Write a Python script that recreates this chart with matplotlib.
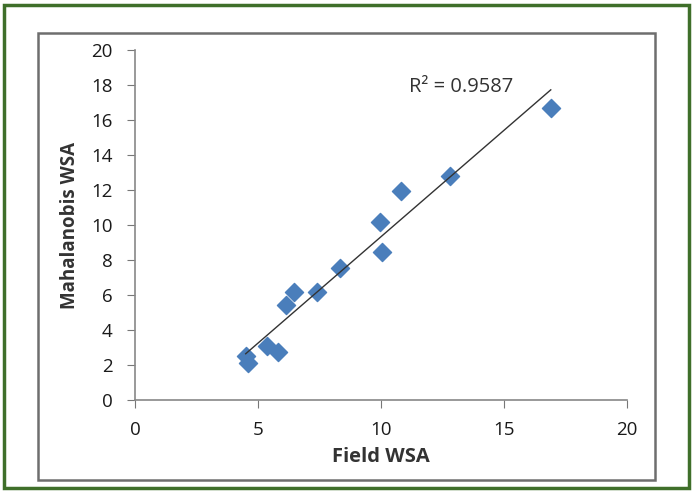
import numpy as np
import matplotlib
matplotlib.use("Agg")
import matplotlib.pyplot as plt
from matplotlib.patches import Rectangle

# data
field_wsa = [4.5, 4.6, 5.35, 5.8, 6.15, 6.45, 7.4, 8.35, 9.95, 10.05, 10.8, 12.8, 16.9]
maha_wsa = [2.5, 2.1, 3.1, 2.75, 5.45, 6.2, 6.15, 7.55, 10.2, 8.45, 11.95, 12.8, 16.7]
r2_label = "R² = 0.9587"
x_ticks = [0, 5, 10, 15, 20]
y_ticks = list(range(0, 21, 2))

plt.rcParams['font.family'] = ['Open Sans', 'DejaVu Sans']

fig = plt.figure(figsize=(6.93, 4.91), dpi=100)
ax = fig.add_axes([0.1948, 0.1853, 0.71, 0.7129])

# outer green frame and inner grey chart box
fig.patches.append(Rectangle((0.006, 0.006), 0.988, 0.984, transform=fig.transFigure,
                             fill=False, edgecolor='#3f6f2a', linewidth=2.5))
fig.patches.append(Rectangle((0.0548, 0.0224), 0.890, 0.910, transform=fig.transFigure,
                             fill=False, edgecolor='#6e6e6e', linewidth=1.8))

ax.scatter(field_wsa, maha_wsa, marker='D', s=85, color='#4a7ebb', zorder=3)

# linear trendline
m, b = np.polyfit(field_wsa, maha_wsa, 1)
xs = np.array([min(field_wsa), max(field_wsa)])
ax.plot(xs, m * xs + b, color='#333333', linewidth=1.0, zorder=4)
ax.text(11.15, 17.9, r2_label, fontsize=14.5, color='#333333', va='center')

ax.set_xlim(0, 20)
ax.set_ylim(0, 20)
ax.set_xticks(x_ticks)
ax.set_yticks(y_ticks)
for s in ['top', 'right']:
    ax.spines[s].set_visible(False)
for s in ['left', 'bottom']:
    ax.spines[s].set_color('#888888')
    ax.spines[s].set_linewidth(1.2)
ax.tick_params(direction='out', length=6, color='#777777', labelsize=13.5, labelcolor='#1a1a1a')
ax.tick_params(axis='y', pad=10)
ax.tick_params(axis='x', pad=9)
ax.set_xlabel("Field WSA", fontsize=14.5, fontweight='bold', color='#333333', labelpad=6)
ax.set_ylabel("Mahalanobis WSA", fontsize=13.5, fontweight='bold', color='#333333', labelpad=8)

fig.savefig("out.png", dpi=100)
